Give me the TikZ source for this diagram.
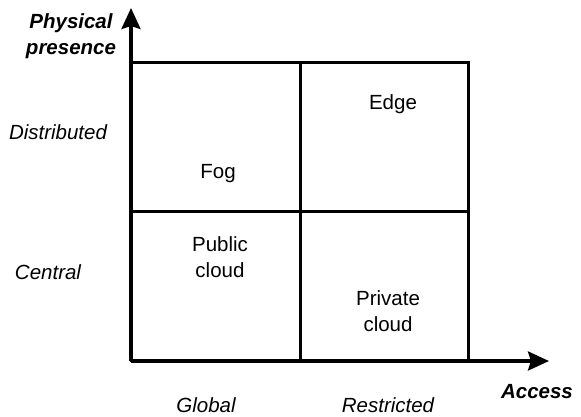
\documentclass[tikz,border=0pt]{standalone}
\usepackage{fontspec}
\setmainfont{Liberation Sans}
\usetikzlibrary{arrows.meta}

\begin{document}
\begin{tikzpicture}[x=1pt,y=-1pt,line width=3pt,
	celltext/.style={font=\fontsize{20.5}{26}\selectfont, align=center, inner sep=0pt},
	ticktext/.style={font=\fontsize{20.5}{26}\selectfont\itshape, align=center, inner sep=0pt},
	axistext/.style={font=\fontsize{20.5}{26}\selectfont\bfseries\itshape, align=center, inner sep=0pt}]
		\useasboundingbox (0,0) rectangle (581,416);
		% axes
		\coordinate (O) at (131,361);
		\coordinate (ytip) at (131,8);
		\coordinate (xtip) at (549,361);
		% grid
		\draw (131,62) rectangle (468,360);
		\draw (300,62) -- (300,360);
		\draw (131,211) -- (468,211);
		\draw[line width=3.5pt, -{Stealth[length=21pt,width=19pt,inset=3pt]}] (O) -- (ytip);
		\draw[line width=3.5pt, -{Stealth[length=21pt,width=19pt,inset=3pt]}] (O) -- (xtip);
		% cells
		\node[celltext] (edge) at (393,104) {Edge};
		\node[celltext] (fog) at (218,174) {Fog};
		\node[celltext] (public) at (220,257) {Public\\cloud};
		\node[celltext] (private) at (388,311) {Private\\cloud};
		% axis labels
		\node[axistext] (phys) at (71,36) {Physical\\presence};
		\node[axistext] (access) at (537,392) {Access};
		\node[ticktext] (distributed) at (58,132) {Distributed};
		\node[ticktext] (central) at (48,272) {Central};
		\node[ticktext] (global) at (206,405) {Global};
		\node[ticktext] (restricted) at (388,405) {Restricted};
\end{tikzpicture}
\end{document}
